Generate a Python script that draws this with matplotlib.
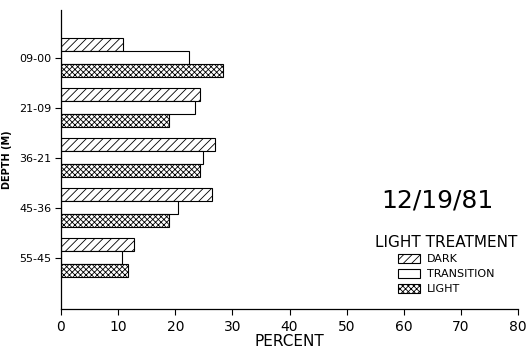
import numpy as np
import matplotlib.pyplot as plt
from matplotlib.patches import Patch

# depth ranges (top to bottom) and percent per light treatment
depths = ["09-00", "21-09", "36-21", "45-36", "55-45"]
dark = [10.8, 24.4, 26.9, 26.4, 12.7]
transition = [22.4, 23.5, 24.9, 20.4, 10.7]
light = [28.4, 18.9, 24.4, 18.9, 11.7]

plt.rcParams['hatch.linewidth'] = 0.6

fig = plt.figure(figsize=(5.27, 3.51), dpi=100)
ax = fig.add_axes([0.1157, 0.1197, 0.8675, 0.852])

y = np.arange(len(depths))
h = 0.26
ax.barh(y - h, dark, height=h, color='white', edgecolor='black', lw=0.8, hatch='////')
ax.barh(y, transition, height=h, color='white', edgecolor='black', lw=0.8)
ax.barh(y + h, light, height=h, color='white', edgecolor='black', lw=0.8, hatch='xxxxxx')

ax.set_xlim(0, 80)
ax.set_ylim(5.02, -0.96)
ax.set_xticks(np.arange(0, 81, 10))
ax.set_yticks(y)
ax.set_yticklabels(depths, fontsize=8)
ax.tick_params(axis='x', labelsize=10, length=4, width=0.8, pad=4)
ax.tick_params(axis='y', length=4, width=0.8, pad=3)
for s in ['top', 'right']:
    ax.spines[s].set_visible(False)
for s in ['left', 'bottom']:
    ax.spines[s].set_linewidth(0.9)

ax.set_xlabel("PERCENT", fontsize=11, labelpad=0)
ax.set_ylabel("DEPTH (M)", fontsize=7, fontweight='bold', labelpad=5)

fig.text(437 / 527, 1 - 201 / 351, "12/19/81", fontsize=18, ha='center', va='center', color='black')

handles = [Patch(facecolor='white', edgecolor='black', hatch='////', lw=0.8),
           Patch(facecolor='white', edgecolor='black', lw=0.8),
           Patch(facecolor='white', edgecolor='black', hatch='xxxxxx', lw=0.8)]
lg = fig.legend(handles, ["DARK", "TRANSITION", "LIGHT"], title="LIGHT TREATMENT",
                loc='upper center', bbox_to_anchor=(446 / 527, 1 - 229 / 351),
                frameon=False, fontsize=8, title_fontsize=11,
                handlelength=2.0, handleheight=0.9, handletextpad=0.6,
                labelspacing=0.4, borderpad=0, alignment='center')

fig.savefig("out.png")
